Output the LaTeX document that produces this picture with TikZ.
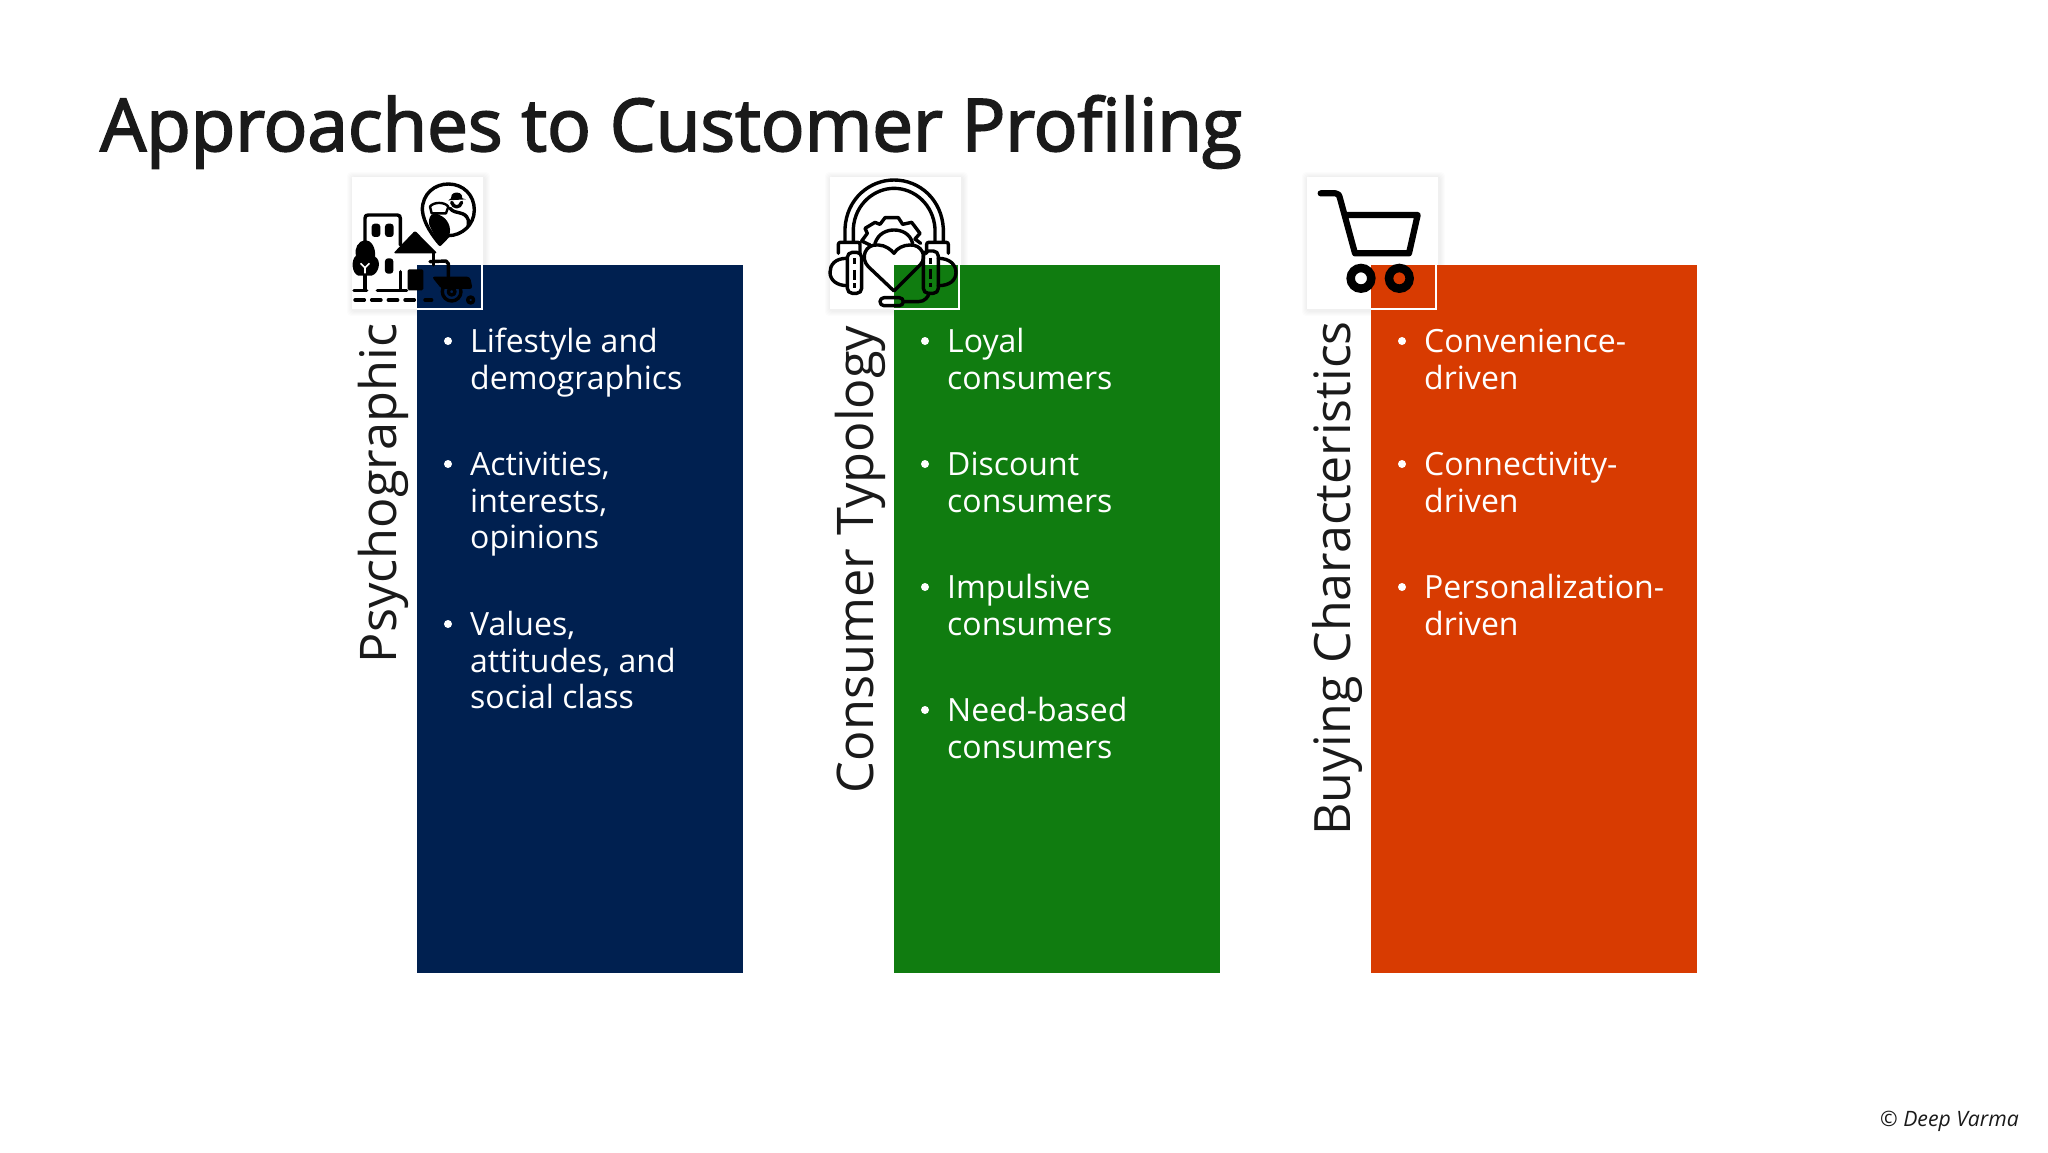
\documentclass[tikz,border=0pt]{standalone}
\usepackage{fontspec}
\setmainfont{Open Sans}
\newfontfamily\titlefont[FakeBold=2.5]{Open Sans}
\definecolor{navy}{HTML}{002050}
\definecolor{grn}{HTML}{107C10}
\definecolor{org}{HTML}{D83B01}
\definecolor{ink}{HTML}{1A1A1A}
\newcommand{\fl}{\rule{0pt}{30pt}}
\tikzset{
 barbox/.style={anchor=north west,inner sep=0,outer sep=0,minimum width=326pt,minimum height=708pt},
 item/.style={anchor=north west,inner sep=0,text=white,align=left,font=\fontsize{32}{36.8}\selectfont},
 dotm/.style={circle,fill=white,inner sep=0,minimum size=8pt},
 vlabel/.style={rotate=90,anchor=base west,inner sep=0,text=ink,font=\fontsize{50.5}{54}\selectfont},
 iconbox/.style={anchor=north west,inner sep=0,minimum width=131pt,minimum height=132pt,fill=white},
 iconline/.style={draw=white,line width=1.2pt},
 ik/.style={draw=black,line width=3.4pt,line cap=round,line join=round},
}
\newcommand{\softshadow}[2]{%
 \foreach \d in {1,2,...,5}{\fill[black,opacity=0.012,rounded corners=4pt] (#1-\d*1,#2-\d*1) rectangle ++(133+2*\d,134+2*\d);}%
}
\begin{document}
\begin{tikzpicture}[x=1pt,y=-1pt]
\useasboundingbox (0,0) rectangle (2048,1152);
\fill[white] (0,0) rectangle (2048,1152);
\node[anchor=base west,inner sep=0,text=ink,font=\fontsize{72.7}{80}\titlefont] (title) at (100,151) {Approaches to Customer Profiling};
% icon box backgrounds
\softshadow{352}{177}\softshadow{830}{177}\softshadow{1307}{177}
\node[iconbox] (boxa) at (352,177) {};
\node[iconbox] (boxb) at (830,177) {};
\node[iconbox] (boxc) at (1307,177) {};
% bars
\node[barbox,fill=navy] (bara) at (417,265) {};
\node[barbox,fill=grn] (barb) at (894,265) {};
\node[barbox,fill=org] (barc) at (1371,265) {};
\draw[iconline] (417,309) -- (482,309) -- (482,265);
\draw[iconline] (894,309) -- (959,309) -- (959,265);
\draw[iconline] (1371,309) -- (1436,309) -- (1436,265);
% rotated headings
\node[vlabel] (la) at (396,663.5) {Psychographic};
\node[vlabel] (lb) at (873,793.5) {Consumer Typology};
\node[vlabel,font=\fontsize{50.1}{54}\selectfont] (lc) at (1350,836) {Buying Characteristics};
% bullets
\foreach \n/\y/\t in {a1/322/{\fl Lifestyle and\\demographics},a2/445/{\fl Activities,\\interests,\\opinions},a3/605/{\fl Values,\\attitudes, and\\social class}}
 {\node[item] (\n) at (470,\y) {\t}; \node[dotm] at (448,\y+19) {};}
\foreach \n/\y/\t in {b1/322/{\fl Loyal\\consumers},b2/445/{\fl Discount\\consumers},b3/568/{\fl Impulsive\\consumers},b4/691/{\fl Need-based\\consumers}}
 {\node[item] (\n) at (947,\y) {\t}; \node[dotm] at (925,\y+19) {};}
\foreach \n/\y/\t in {c1/322/{\fl Convenience-\\driven},c2/445/{\fl Connectivity-\\driven},c3/568/{\fl Personalization-\\driven}}
 {\node[item] (\n) at (1424,\y) {\t}; \node[dotm] at (1402,\y+19) {};}
\node[anchor=base east,inner sep=0,text=ink,font=\fontsize{21.2}{24}\itshape\selectfont] (cr) at (2019,1126) {© Deep Varma};
% icon 1 (coordinates are those of the 3x crop)
\begin{scope}[shift={(340,165)},x=0.3333pt,y=-0.3333pt]
 \draw[ik] (300,238) .. controls (280,215) and (250,175) .. (247,135) .. controls (247,85) and (285,57) .. (325,57) .. controls (370,57) and (403,90) .. (403,135) .. controls (403,180) and (365,212) .. (325,212) -- cycle;
 \fill[black] (300,240) -- (280,205) -- (268,180) .. controls (262,155) and (280,135) .. (298,150) .. controls (325,160) and (335,190) .. (328,210) -- cycle;
 \draw[ik,line width=2.4pt] (270,125) .. controls (280,110) and (315,110) .. (325,125) -- (318,145) -- (275,145) -- cycle;
 \fill[black] (333,100) -- (335,90) .. controls (340,80) and (360,80) .. (365,90) -- (367,100) -- (378,103) -- (325,106) -- cycle;
 \draw[ik] (335,112) .. controls (340,130) and (360,130) .. (365,112);
 \draw[ik] (330,130) .. controls (345,150) and (375,135) .. (385,165) -- (385,185);
 \draw[ik] (75,228) -- (75,160) .. controls (75,152) and (78,150) .. (85,150) -- (172,150) .. controls (178,150) and (181,153) .. (181,160) -- (181,240);
 \draw[ik] (181,320) -- (181,372);
 \foreach \xx in {95,135}{\fill[black,rounded corners=3pt] (\xx,176) rectangle ++(26,40);}
 \fill[black,rounded corners=3pt] (135,280) rectangle (160,326);
 \fill[black] (75,225) .. controls (95,225) and (108,250) .. (105,275) .. controls (125,285) and (118,325) .. (95,332) -- (55,332) .. controls (35,325) and (32,285) .. (48,272) .. controls (42,250) and (55,228) .. (75,225) -- cycle;
 \draw[draw=white,line width=1.6pt] (75,325) -- (75,305) (62,295) -- (75,308) -- (88,295);
 \draw[ik] (75,332) -- (75,372);
 \draw[ik] (42,376) -- (80,376) (112,376) -- (200,376);
 \fill[black,rounded corners=2pt] (225,197) -- (292,265) -- (160,265) -- cycle;
 \draw[ik] (280,265) -- (280,300);
 \fill[black,rounded corners=1.5pt] (203,313) rectangle (250,376);
 \draw[ik] (270,290) -- (318,288) -- (325,296) -- (325,335);
 \fill[black,rounded corners=3pt] (275,335) -- (390,335) -- (398,372) -- (305,372) -- cycle;
 \draw[ik] (335,380) circle [radius=28];
 \draw[ik] (335,380) circle [radius=10];
 \draw[ik] (392,405) circle [radius=9];
 \draw[ik] (255,405) -- (275,405);
 \foreach \xx in {45,95,145,195}{\draw[ik] (\xx,405) -- ++(28,0);}
\end{scope}
% icon 2
\begin{scope}[shift={(820,165)},x=0.3333pt,y=-0.3333pt]
 \draw[ik] (75,230) -- (75,190) .. controls (80,100) and (150,45) .. (222,45) .. controls (300,45) and (365,105) .. (370,190) -- (370,230);
 \draw[ik] (100,230) -- (100,190) .. controls (105,115) and (165,70) .. (222,70) .. controls (285,70) and (340,120) .. (345,190) -- (345,230);
 \draw[ik,rounded corners=2pt] (55,265) -- (55,232) -- (120,232) -- (120,265);
 \draw[ik,rounded corners=2pt] (320,265) -- (320,232) -- (385,232) -- (385,265);
 \draw[ik,rounded corners=5pt] (82,262) rectangle (125,385);
 \draw[ik,rounded corners=5pt] (310,258) rectangle (355,385);
 \draw[ik] (80,280) .. controls (45,280) and (30,300) .. (30,322) .. controls (30,345) and (50,362) .. (82,362);
 \draw[ik] (355,280) .. controls (390,280) and (408,300) .. (408,322) .. controls (408,345) and (390,362) .. (355,362);
 \draw[line width=3.4pt,draw=black] (104,280) -- (104,298) (104,315) -- (104,345) (104,355) -- (104,368);
 \draw[line width=3.4pt,draw=black] (332,278) -- (332,296) (332,313) -- (332,343) (332,353) -- (332,366);
 \draw[ik] (222,378) -- (145,305) .. controls (120,280) and (135,235) .. (175,240) .. controls (195,240) and (215,255) .. (222,265) .. controls (230,250) and (250,240) .. (270,240) .. controls (305,238) and (322,275) .. (302,298) -- cycle;
 \draw[ik] (150,240) -- (125,228) -- (142,205) -- (135,190) -- (165,172) -- (180,178) -- (195,158) -- (235,158) -- (248,178) -- (275,172) -- (300,205) -- (285,222) -- (302,235);
 \draw[ik] (165,235) .. controls (175,205) and (200,195) .. (222,195) .. controls (245,195) and (270,205) .. (278,235);
 \draw[ik,rounded corners=4pt] (180,398) rectangle (250,422);
 \draw[ik] (250,410) -- (295,410) .. controls (315,410) and (325,395) .. (327,385);
\end{scope}
% icon 3
\begin{scope}[shift={(1295,165)},x=0.3333pt,y=-0.3333pt]
 \draw[line width=6.2pt,draw=black,line cap=round,line join=round] (77,85) -- (122,85) .. controls (130,85) and (132,90) .. (135,100) -- (180,265) -- (342,265) -- (368,150) -- (155,150);
 \draw[line width=8.5pt,draw=black] (198,340) circle [radius=31];
 \draw[line width=8.5pt,draw=black] (313,340) circle [radius=31];
\end{scope}
\end{tikzpicture}
\end{document}
